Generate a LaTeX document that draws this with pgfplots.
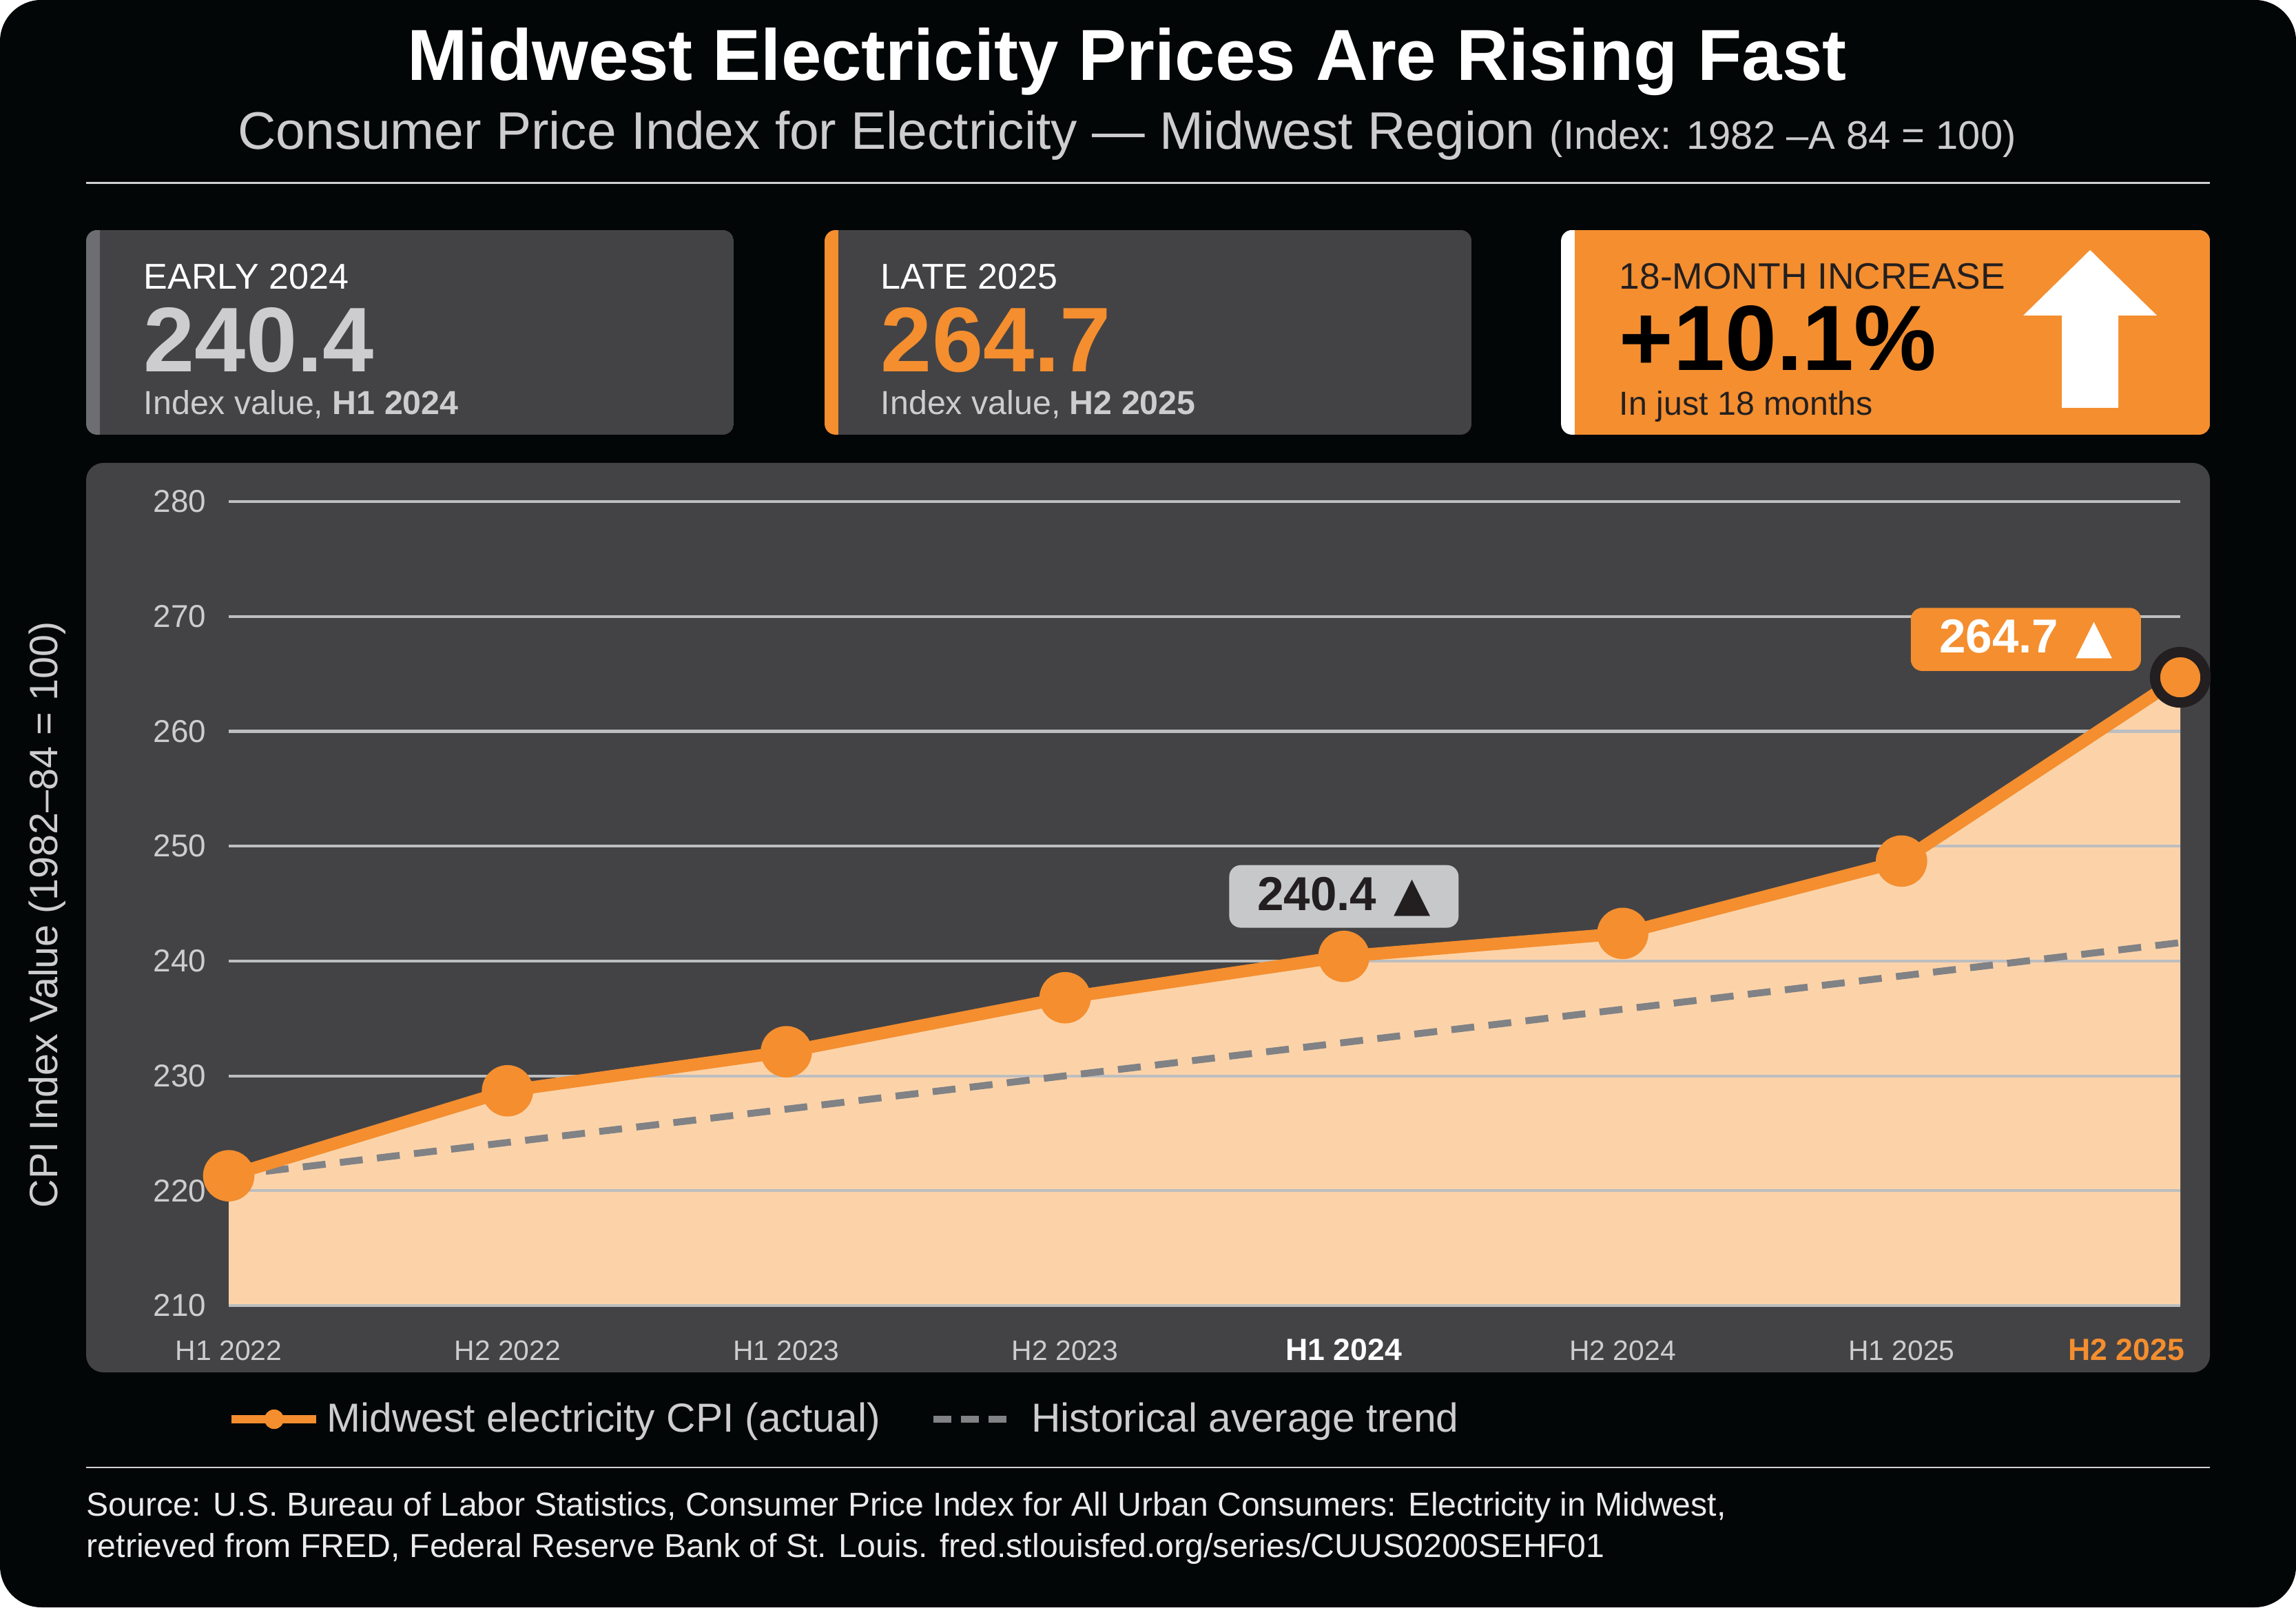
\documentclass[border=0pt]{standalone}
\usepackage{pgfplots}
\pgfplotsset{compat=1.18}
\usepackage{pgfplotstable}
\usepackage{fontspec}
\setmainfont{Liberation Sans}
\newfontfamily\symfont{DejaVu Sans}
\definecolor{bgblack}{HTML}{030607}
\definecolor{panel}{HTML}{434345}
\definecolor{accent}{HTML}{F48E2F}
\definecolor{peach}{HTML}{FCD3A9}
\definecolor{gridc}{HTML}{BCBEC0}
\definecolor{lgray}{HTML}{CDCDCF}
\definecolor{tgray}{HTML}{808285}
\definecolor{boxgray}{HTML}{C7C8CA}
\definecolor{dark}{HTML}{231F20}
\definecolor{stripe}{HTML}{6D6E71}
\definecolor{rulec}{HTML}{D0D1D3}
\newcommand{\fs}[1]{\fontsize{#1}{#1}\selectfont}

\pgfplotstableread{
x y trend
0 221.3 221.3
1 228.7 224.2
2 232.1 227.1
3 236.8 230.0
4 240.4 232.9
5 242.4 235.8
6 248.7 238.7
7 264.7 241.6
}\cpidata

\begin{document}
\begin{tikzpicture}
\begin{scope}[x=0.24pt,y=0.24pt,every node/.style={inner sep=0pt}]
\fill[white] (0,0) rectangle (3333,2333);
\fill[bgblack, rounded corners=14.4pt] (0,0) rectangle (3333,2333);
% titles
\node[anchor=base, text=white, font=\fs{25.2}\bfseries] at (1636,2216) {Midwest Electricity Prices Are Rising Fast};
\node[anchor=base, text=lgray] at (1636,2116) {\fs{18.4}Consumer Price Index for Electricity — Midwest Region {\fs{13.9}(Index: 1982 –A 84 = 100)}};
\draw[rulec, line width=0.7pt] (125,2067) -- (3208,2067);
% card 1
\begin{scope}
\clip[rounded corners=3.8pt] (125,1702) rectangle (1065,1999);
\fill[stripe] (125,1702) rectangle (145,1999);
\fill[panel] (145,1702) rectangle (1065,1999);
\end{scope}
\node[anchor=base west, text=white, font=\fs{12.5}] at (208,1913) {EARLY 2024};
\node[anchor=base west, text=lgray, font=\fs{32}\bfseries] at (208,1793) {240.4};
\node[anchor=base west, text=lgray, font=\fs{11.6}] at (208,1731) {Index value, \textbf{H1 2024}};
% card 2
\begin{scope}
\clip[rounded corners=3.8pt] (1197,1702) rectangle (2136,1999);
\fill[accent] (1197,1702) rectangle (1217,1999);
\fill[panel] (1217,1702) rectangle (2136,1999);
\end{scope}
\node[anchor=base west, text=white, font=\fs{12.5}] at (1278,1913) {LATE 2025};
\node[anchor=base west, text=accent, font=\fs{32}\bfseries] at (1278,1793) {264.7};
\node[anchor=base west, text=lgray, font=\fs{11.6}] at (1278,1731) {Index value, \textbf{H2 2025}};
% card 3
\begin{scope}
\clip[rounded corners=3.8pt] (2266,1702) rectangle (3208,1999);
\fill[white] (2266,1702) rectangle (2286,1999);
\fill[accent] (2286,1702) rectangle (3208,1999);
\end{scope}
\node[anchor=base west, text=dark, font=\fs{12.8}] at (2350,1913) {18-MONTH INCREASE};
\node[anchor=base west, text=black, font=\fs{32.3}\bfseries] at (2350,1795) {+10.1\%};
\node[anchor=base west, text=dark, font=\fs{11.6}] at (2350,1730) {In just 18 months};
\fill[white] (2937,1875) -- (3034,1970) -- (3131,1875) -- (3075,1875) -- (3075,1741) -- (2993,1741) -- (2993,1875) -- cycle;
% chart panel
\fill[panel, rounded corners=6pt] (125,341) rectangle (3208,1661);
\node[rotate=90, anchor=base, text=lgray, font=\fs{13.8}] at (83,1005) {CPI Index Value (1982–84 = 100)};
% footer
\draw[rulec, line width=0.7pt] (125,203) -- (3208,203);
\node[anchor=base west, text=white!92!black, font=\fs{11.57}] at (125,133) {Source: U.S. Bureau of Labor Statistics, Consumer Price Index for All Urban Consumers: Electricity in Midwest,};
\node[anchor=base west, text=white!92!black, font=\fs{11.57}] at (125,73) {retrieved from FRED, Federal Reserve Bank of St. Louis. fred.stlouisfed.org/series/CUUS0200SEHF01};
\end{scope}

\begin{axis}[
  at={(79.68pt,105.12pt)}, anchor=south west,
  width=679.92pt, height=280.08pt, scale only axis,
  xmin=0, xmax=7, ymin=210, ymax=280,
  clip=false,
  axis line style={draw=none},
  major tick length=0pt,
  ytick={210,220,...,280},
  xtick={0,...,7},
  xticklabels={H1 2022, H2 2022, H1 2023, H2 2023, {\fs{10.7}\bfseries\color{white}H1 2024}, H2 2024, H1 2025, {\makebox[0pt][r]{\fs{10.7}\bfseries\color{accent}H2 2025\hspace{-1.4pt}}}},
  yticklabel style={font=\fs{11}, text=lgray, inner sep=0pt, xshift=-7.7pt, anchor=east},
  xticklabel style={font=\fs{9.8}, text=lgray, inner sep=0pt, anchor=base, yshift=-19pt},
  /pgf/number format/assume math mode=true,
  legend style={at={(-0.0007,-0.1414)}, anchor=west, draw=none, fill=none, inner sep=0pt, outer sep=0pt,
    font=\fs{14.1}, text=lgray, legend columns=2,
    /tikz/every even column/.append style={column sep=15.4pt}},
  legend cell align=left,
]
\addplot[draw=none, fill=peach, forget plot] coordinates {(0,210) (0,221.3) (1,228.7) (2,232.1) (3,236.8) (4,240.4) (5,242.4) (6,248.7) (7,264.7) (7,210)};
\pgfplotsinvokeforeach{210,220,230,240,250,260,270,280}{
  \addplot[gridc, line width=1pt, forget plot] coordinates {(0,#1) (7,#1)};
}
\addplot[tgray, line width=2.4pt, dash pattern=on 8pt off 5pt, forget plot] table[x=x,y=trend] {\cpidata};
\addplot[accent, line width=4.3pt, line join=round, mark=*, mark size=6.8pt, mark options={fill=accent, draw=none}, forget plot] table[x=x,y=y] {\cpidata};
\addplot[only marks, mark=*, mark size=8.8pt, mark options={fill=accent, draw=dark, line width=3.6pt}, forget plot] coordinates {(7,264.7)};
\node[fill=boxgray, rounded corners=4pt, minimum width=79.9pt, minimum height=21.8pt, inner sep=0pt, anchor=south, yshift=9.8pt, text=dark, font=\fs{16.6}\bfseries] at (axis cs:4,240.4) {240.4\hspace{6pt}{\symfont ▲}};
\node[fill=accent, rounded corners=4pt, minimum width=80.2pt, minimum height=22pt, inner sep=0pt, anchor=south, xshift=-53.8pt, yshift=2pt, text=white, font=\fs{16.6}\bfseries] at (axis cs:7,264.7) {264.7\hspace{6pt}{\symfont ▲}};
\addlegendimage{legend image code/.code={\draw[accent, line width=3.1pt] (0pt,0pt) -- (29.5pt,0pt); \fill[accent] (14.75pt,0pt) circle (3.2pt); \path (31pt,0pt);}}
\addlegendentry{Midwest electricity CPI (actual)}
\addlegendimage{legend image code/.code={\draw[tgray, line width=2.4pt, dash pattern=on 6.2pt off 3.4pt] (0pt,0pt) -- (25.4pt,0pt); \path (31.8pt,0pt);}}
\addlegendentry{Historical average trend}
\end{axis}
\pgfresetboundingbox
\path[use as bounding box] (0,0) rectangle (799.92pt,559.92pt);
\end{tikzpicture}
\end{document}
